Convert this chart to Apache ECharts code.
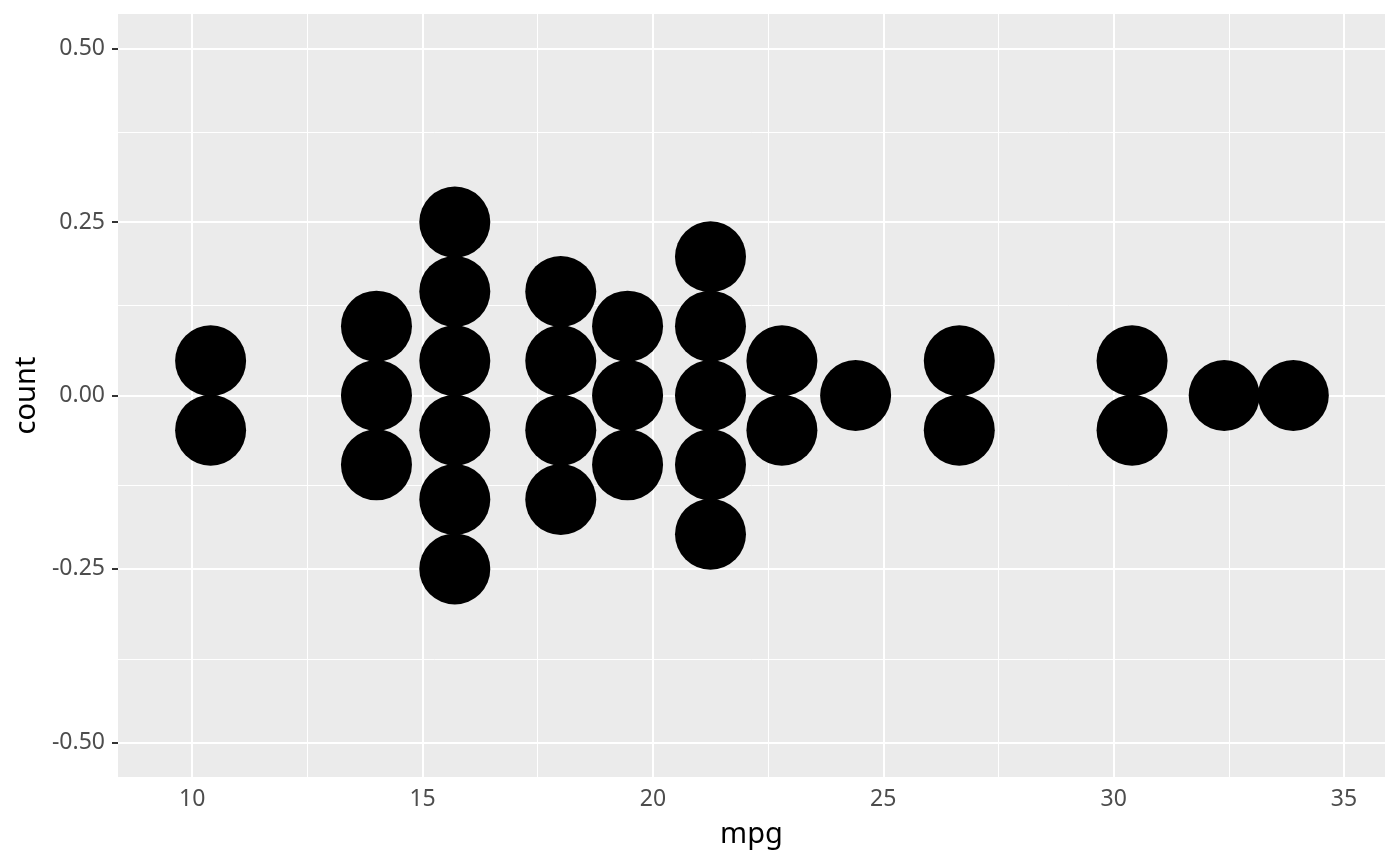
<!DOCTYPE html>
<html>
<head>
<meta charset="utf-8">
<script src="https://cdn.jsdelivr.net/npm/echarts@6/dist/echarts.min.js"></script>
<style>
  html, body { margin: 0; padding: 0; background: #fff; }
  #chart { width: 1400px; height: 866px; }
</style>
</head>
<body>
<div id="chart"></div>
<script>
// mpg dot positions (x = bin centre, y = stacked position)
const dotX = [10.4, 10.4,
  14.0, 14.0, 14.0,
  15.7, 15.7, 15.7, 15.7, 15.7, 15.7,
  18.0, 18.0, 18.0, 18.0,
  19.45, 19.45, 19.45,
  21.25, 21.25, 21.25, 21.25, 21.25,
  22.8, 22.8,
  24.4,
  26.65, 26.65,
  30.4, 30.4,
  32.4,
  33.9];
const dotY = [0.05, -0.05,
  0.10, 0.00, -0.10,
  0.25, 0.15, 0.05, -0.05, -0.15, -0.25,
  0.15, 0.05, -0.05, -0.15,
  0.10, 0.00, -0.10,
  0.20, 0.10, 0.00, -0.10, -0.20,
  0.05, -0.05,
  0.00,
  0.05, -0.05,
  0.05, -0.05,
  0.00,
  0.00];

const xTicks = [10, 15, 20, 25, 30, 35];
const xMinor = [12.5, 17.5, 22.5, 27.5, 32.5];
const yTicks = [-0.5, -0.25, 0, 0.25, 0.5];
const yMinor = [-0.375, -0.125, 0.125, 0.375];

document.addEventListener("DOMContentLoaded", function () {
  const myChart = echarts.init(document.getElementById("chart"));

  const gridLines = [];
  xMinor.forEach(v => gridLines.push({ xAxis: v, lineStyle: { width: 1 } }));
  yMinor.forEach(v => gridLines.push({ yAxis: v, lineStyle: { width: 1 } }));
  xTicks.forEach(v => gridLines.push({ xAxis: v, lineStyle: { width: 2 } }));
  yTicks.forEach(v => gridLines.push({ yAxis: v, lineStyle: { width: 2 } }));

  const tickLabel = { color: "#4D4D4D", fontSize: 23, fontFamily: "Noto Sans" };
  const titleStyle = { color: "#000", fontSize: 29, fontFamily: "Noto Sans" };

  const option = {
    animation: false,
    grid: {
      left: 118, right: 15, top: 14, bottom: 89,
      show: true, backgroundColor: "#EBEBEB", borderWidth: 0
    },
    xAxis: {
      type: "value", min: 8.39, max: 35.89,
      name: "mpg", nameLocation: "middle", nameGap: 43,
      nameTextStyle: titleStyle,
      axisLine: { show: false },
      axisTick: { show: true, length: 6, customValues: xTicks, lineStyle: { color: "#333", width: 2 } },
      axisLabel: Object.assign({ customValues: xTicks, margin: 11 }, tickLabel),
      splitLine: { show: false }
    },
    yAxis: {
      type: "value", min: -0.55, max: 0.55,
      name: "count", nameLocation: "middle", nameGap: 76,
      nameTextStyle: titleStyle,
      axisLine: { show: false },
      axisTick: { show: true, length: 6, customValues: yTicks, lineStyle: { color: "#333", width: 2 } },
      axisLabel: Object.assign({ customValues: yTicks, margin: 13, formatter: v => v.toFixed(2) }, tickLabel),
      splitLine: { show: false }
    },
    series: [
      {
        type: "scatter", data: [], silent: true, z: 1,
        markLine: {
          silent: true, symbol: "none", label: { show: false },
          lineStyle: { color: "#FFFFFF", type: "solid" },
          data: gridLines
        }
      },
      {
        type: "scatter", z: 5, silent: true,
        symbol: "circle", symbolSize: 71,
        itemStyle: { color: "#000", opacity: 1 },
        data: dotX.map((x, i) => [x, dotY[i]])
      }
    ]
  };
  myChart.setOption(option);
});
</script>
</body>
</html>
